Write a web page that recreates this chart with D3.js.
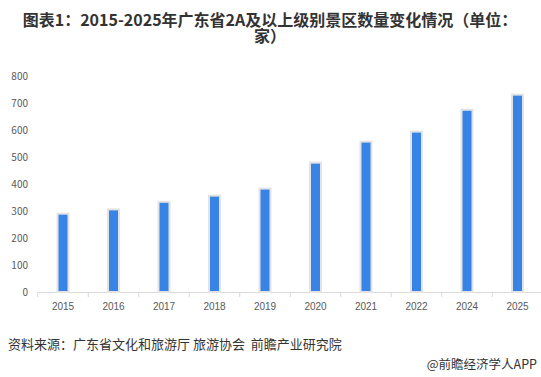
<!DOCTYPE html>
<html>
<head>
<meta charset="utf-8">
<script src="https://cdn.jsdelivr.net/npm/d3@7"></script>
<style>
  body { margin: 0; background: #fff; }
  svg { display: block; font-family: "Microsoft YaHei", "Noto Sans CJK SC", sans-serif; }
</style>
</head>
<body>
<svg id="chart" width="541" height="377"></svg>
<script>
var years = ['2015', '2016', '2017', '2018', '2019', '2020', '2021', '2022', '2024', '2025']
var counts = [290, 306, 334, 357, 383, 479, 557, 594, 675, 731]
var yTicks = [0, 100, 200, 300, 400, 500, 600, 700, 800]

var svg = d3.select('#chart')
var width = 541

var x = d3.scaleBand()
  .domain(years)
  .range([37.75, 542.75])
  .paddingInner(0)

var y = d3.scaleLinear()
  .domain([0, 800])
  .range([292, 76])

// title, two lines
svg.append('text')
  .attr('x', 270).attr('y', 26)
  .attr('text-anchor', 'middle')
  .attr('font-size', 16)
  .attr('font-weight', 'bold')
  .attr('fill', '#333')
  .text('图表1：2015-2025年广东省2A及以上级别景区数量变化情况（单位：')
svg.append('text')
  .attr('x', 270).attr('y', 42)
  .attr('text-anchor', 'middle')
  .attr('font-size', 16)
  .attr('font-weight', 'bold')
  .attr('fill', '#333')
  .text('家）')

// y labels
svg.append('g').selectAll('text')
  .data(yTicks)
  .enter().append('text')
  .attr('x', 28)
  .attr('y', function (d) { return y(d) + 4 })
  .attr('text-anchor', 'end')
  .attr('font-size', 10)
  .attr('fill', '#595959')
  .text(function (d) { return d })

// x axis
var xAxis = d3.axisBottom(x).tickSize(0).tickPadding(11)
var gx = svg.append('g')
  .attr('transform', 'translate(0,292)')
  .call(xAxis)
gx.select('.domain').attr('stroke', '#d9d9d9')
gx.selectAll('text').attr('font-size', 10).attr('fill', '#595959')
  .attr('font-family', 'Liberation Sans, Arial, sans-serif')

// band separator ticks
svg.append('g').selectAll('line')
  .data(years)
  .enter().append('line')
  .attr('x1', function (d) { return x(d) })
  .attr('x2', function (d) { return x(d) })
  .attr('y1', 292)
  .attr('y2', 297)
  .attr('stroke', '#d9d9d9')

// bars
var barW = 11
svg.append('g').selectAll('rect')
  .data(counts)
  .enter().append('rect')
  .attr('x', function (d, i) { return x(years[i]) + x.bandwidth() / 2 - barW / 2 })
  .attr('y', function (d) { return y(d) })
  .attr('width', barW)
  .attr('height', function (d) { return 292 - y(d) })
  .attr('fill', '#3884e6')
  .attr('stroke', '#e3e3e3')
  .attr('stroke-width', 2)

// footer
svg.append('text')
  .attr('x', 8)
  .attr('y', 349)
  .attr('font-size', 13)
  .attr('fill', '#333')
  .style('white-space', 'pre')
  .text('资料来源：广东省文化和旅游厅 旅游协会  前瞻产业研究院')

svg.append('text')
  .attr('x', 537)
  .attr('y', 369)
  .attr('text-anchor', 'end')
  .attr('font-size', 12.5)
  .attr('fill', '#333')
  .text('@前瞻经济学人APP')
</script>
</body>
</html>
